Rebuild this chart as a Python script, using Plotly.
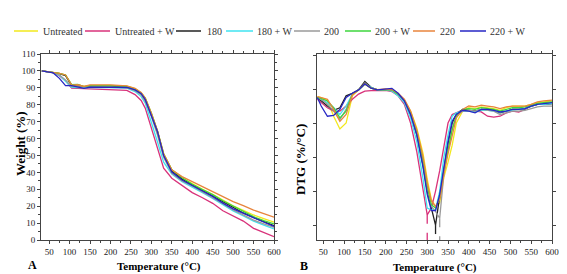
import plotly.graph_objects as go

# ---------------- data ----------------
series_names = ["Untreated", "Untreated + W", "180", "180 + W", "200", "200 + W", "220", "220 + W"]
series_colors = ["#f2e81c", "#d8327a", "#222222", "#3fe3f0", "#9a9a9a", "#3ed63e", "#e8843c", "#2626c4"]

# TGA (panel A)
temp_a = [32, 60, 75, 90, 105, 120, 135, 150, 200, 240, 260, 275, 285, 300, 315, 330, 350,
          375, 400, 425, 450, 475, 500, 525, 550, 575, 600]
tga_untreated = [100, 99.2, 98.5, 97.5, 91.8, 91.8, 90.8, 91.4, 91.5, 91.0, 89.5, 87.0, 84.0, 75.0, 64.0, 51.0, 41.5,
                 36.8, 33.3, 30.0, 27.0, 23.5, 20.2, 17.5, 14.8, 12.6, 10.5]
tga_untreated_w = [100, 99.0, 97.2, 94.2, 89.8, 89.7, 89.5, 89.4, 89.0, 88.5, 86.0, 82.5, 78.0, 66.0, 54.0, 42.5, 36.5,
                   32.0, 28.0, 25.0, 21.7, 17.3, 14.0, 11.2, 6.9, 4.3, 2.0]
tga_180 = [100, 99.2, 98.4, 97.2, 91.3, 91.0, 90.5, 90.8, 90.8, 90.3, 88.8, 86.5, 83.0, 74.0, 64.0, 50.0, 40.8,
           36.0, 32.7, 29.3, 26.0, 22.3, 19.0, 16.0, 13.3, 10.9, 8.5]
tga_180_w = [100, 99.0, 97.4, 93.6, 90.3, 90.2, 90.0, 90.2, 90.2, 89.8, 87.8, 84.8, 81.0, 70.0, 58.0, 46.0, 39.0,
             34.5, 31.5, 28.0, 24.6, 20.8, 17.2, 14.2, 11.2, 8.8, 6.5]
tga_200 = [100, 99.0, 97.6, 94.6, 90.7, 90.5, 90.3, 90.5, 90.5, 90.0, 88.3, 85.8, 82.0, 73.0, 62.0, 49.0, 39.5,
           35.0, 32.0, 28.5, 25.4, 21.4, 17.8, 14.8, 11.8, 9.6, 7.5]
tga_200_w = [100, 99.3, 98.6, 97.6, 91.8, 92.0, 90.7, 91.3, 91.3, 90.8, 89.3, 87.0, 84.0, 75.0, 64.5, 51.0, 41.5,
             36.8, 33.0, 29.8, 26.8, 23.2, 19.9, 17.0, 13.8, 11.5, 9.5]
tga_220 = [100, 99.3, 98.6, 97.6, 91.6, 91.8, 90.8, 91.7, 91.7, 91.2, 89.7, 87.3, 84.0, 75.0, 64.5, 51.0, 41.5,
           37.5, 34.5, 31.5, 28.6, 25.6, 22.7, 20.3, 17.7, 15.6, 13.5]
tga_220_w = [100, 98.8, 95.6, 91.3, 91.3, 90.7, 89.7, 90.4, 90.4, 90.2, 88.8, 86.5, 83.0, 74.0, 64.0, 50.0, 40.2,
             35.5, 32.5, 29.0, 25.8, 21.8, 18.4, 15.8, 12.8, 10.4, 8.0]

# DTG (panel B)
temp_b = [36, 45, 60, 75, 90, 105, 120, 135, 150, 165, 180, 200, 215, 230, 245, 260, 275, 290, 300, 310,
          320, 330, 340, 350, 360, 370, 385, 400, 415, 430, 445, 460, 475, 490, 505, 520, 535, 550, 565, 580, 600]
dtg_untreated = [-0.045, -0.05, -0.065, -0.16, -0.235, -0.2, -0.04, -0.005, 0.03, 0.005, -0.005, -0.002, -0.005,
                 -0.03, -0.065, -0.13, -0.23, -0.38, -0.53, -0.65, -0.69, -0.67, -0.52, -0.43, -0.33, -0.2,
                 -0.13, -0.11, -0.115, -0.105, -0.11, -0.115, -0.125, -0.11, -0.1, -0.1, -0.1, -0.09, -0.08,
                 -0.075, -0.07]
dtg_untreated_w = [-0.06, -0.08, -0.11, -0.13, -0.13, -0.1, -0.06, -0.03, -0.012, -0.01, -0.01, -0.008, -0.015,
                   -0.04, -0.09, -0.2, -0.37, -0.6, -0.74, -0.7, -0.6, -0.48, -0.35, -0.2, -0.15, -0.14,
                   -0.125, -0.13, -0.13, -0.135, -0.16, -0.165, -0.16, -0.14, -0.13, -0.135, -0.12, -0.1, -0.09,
                   -0.09, -0.085]
dtg_180 = [-0.05, -0.07, -0.1, -0.125, -0.11, -0.04, -0.025, -0.005, 0.045, 0.01, -0.005, -0.003, -0.008,
           -0.03, -0.07, -0.15, -0.27, -0.45, -0.6, -0.7, -0.8, -0.63, -0.46, -0.32, -0.2, -0.15,
           -0.12, -0.125, -0.13, -0.12, -0.12, -0.125, -0.14, -0.13, -0.12, -0.12, -0.115, -0.1, -0.09,
           -0.09, -0.085]
dtg_180_w = [-0.05, -0.06, -0.08, -0.11, -0.15, -0.1, -0.03, -0.005, 0.03, 0.01, -0.005, -0.005, -0.012,
             -0.04, -0.08, -0.17, -0.31, -0.53, -0.7, -0.71, -0.71, -0.6, -0.4, -0.27, -0.16, -0.14,
             -0.13, -0.13, -0.135, -0.125, -0.125, -0.13, -0.135, -0.13, -0.125, -0.12, -0.115, -0.1, -0.09,
             -0.09, -0.085]
dtg_200 = [-0.05, -0.06, -0.09, -0.13, -0.18, -0.12, -0.03, -0.005, 0.035, 0.005, -0.003, -0.003, -0.006,
           -0.03, -0.07, -0.15, -0.26, -0.43, -0.58, -0.69, -0.72, -0.76, -0.5, -0.36, -0.23, -0.16,
           -0.13, -0.125, -0.13, -0.12, -0.125, -0.13, -0.15, -0.14, -0.13, -0.13, -0.125, -0.115, -0.105,
           -0.1, -0.1]
dtg_200_w = [-0.05, -0.055, -0.07, -0.11, -0.17, -0.13, -0.03, -0.005, 0.03, 0.005, -0.003, -0.002, -0.005,
             -0.03, -0.065, -0.14, -0.25, -0.42, -0.57, -0.68, -0.7, -0.64, -0.48, -0.36, -0.24, -0.16,
             -0.12, -0.115, -0.12, -0.11, -0.115, -0.12, -0.13, -0.12, -0.11, -0.11, -0.105, -0.095, -0.085,
             -0.08, -0.075]
dtg_220 = [-0.045, -0.05, -0.06, -0.12, -0.19, -0.15, -0.035, -0.005, 0.03, 0.005, -0.003, 0.0, -0.003,
           -0.025, -0.06, -0.13, -0.24, -0.4, -0.55, -0.66, -0.69, -0.65, -0.5, -0.38, -0.27, -0.17,
           -0.12, -0.1, -0.105, -0.095, -0.1, -0.105, -0.115, -0.105, -0.1, -0.1, -0.1, -0.09, -0.075,
           -0.07, -0.065]
dtg_220_w = [-0.05, -0.1, -0.16, -0.155, -0.12, -0.05, -0.025, -0.005, 0.03, 0.005, -0.005, -0.002, 0.004,
             -0.025, -0.07, -0.15, -0.27, -0.46, -0.62, -0.715, -0.715, -0.62, -0.45, -0.31, -0.19, -0.15,
             -0.125, -0.13, -0.14, -0.12, -0.12, -0.125, -0.135, -0.13, -0.12, -0.12, -0.115, -0.1, -0.09,
             -0.085, -0.08]

# DTG peak markers (dashed drop lines)
peak_series = ["Untreated + W", "180", "200"]
peak_temp = [300, 320, 330]

tga_values = [tga_untreated, tga_untreated_w, tga_180, tga_180_w, tga_200, tga_200_w, tga_220, tga_220_w]
dtg_values = [dtg_untreated, dtg_untreated_w, dtg_180, dtg_180_w, dtg_200, dtg_200_w, dtg_220, dtg_220_w]

x_ticks = [50, 100, 150, 200, 250, 300, 350, 400, 450, 500, 550, 600]
y_ticks_a = [0, 10, 20, 30, 40, 50, 60, 70, 80, 90, 100, 110]

# ---------------- layout constants ----------------
W, H = 567, 274
L, R, T, B = 33, 23, 46, 42
PW, PH = W - L - R, H - T - B
FONT = "Liberation Serif"
DTG_RANGE = [-0.888, 0.206]


def px_x(px):
    return (px - L) / PW


def px_y(py):
    return (H - B - py) / PH


fig = go.Figure()

for name, color, ys in zip(series_names, series_colors, tga_values):
    fig.add_trace(go.Scatter(x=temp_a, y=ys, mode="lines", name=name, showlegend=False,
                             line=dict(color=color, width=1.3), xaxis="x", yaxis="y"))
for name, color, ys in zip(series_names, series_colors, dtg_values):
    fig.add_trace(go.Scatter(x=temp_b, y=ys, mode="lines", name=name, showlegend=False,
                             line=dict(color=color, width=1.3), xaxis="x2", yaxis="y2"))

for sname, t in zip(peak_series, peak_temp):
    i = series_names.index(sname)
    ymin = dtg_values[i][temp_b.index(t)]
    fig.add_trace(go.Scatter(x=[t, t], y=[ymin, DTG_RANGE[0]], mode="lines", showlegend=False,
                             line=dict(color=series_colors[i], width=1.3, dash="dash"),
                             xaxis="x2", yaxis="y2"))

axis_common = dict(showline=True, linecolor="#444", linewidth=1, mirror="ticks", ticks="outside",
                   ticklen=3, tickwidth=1, tickcolor="#444", showgrid=False, zeroline=False,
                   tickfont=dict(family=FONT, size=9, color="#222"))

fig.update_layout(
    width=W, height=H, margin=dict(l=L, r=R, t=T, b=B),
    paper_bgcolor="white", plot_bgcolor="white", showlegend=False,
    xaxis=dict(domain=[0, px_x(266)], range=[30, 600], tickvals=x_ticks,
               minor=dict(ticks="outside", ticklen=2, dtick=25, tick0=0, tickcolor="#444"),
               **axis_common),
    yaxis=dict(domain=[0, 1], range=[0, 110], tickvals=y_ticks_a,
               minor=dict(ticks="outside", ticklen=2, dtick=5, tick0=0, tickcolor="#444"),
               **axis_common),
    xaxis2=dict(domain=[px_x(309), 1], range=[35, 600], tickvals=x_ticks, anchor="y2",
                minor=dict(ticks="outside", ticklen=2, dtick=25, tick0=0, tickcolor="#444"),
                **axis_common),
    yaxis2=dict(domain=[0, 1], range=DTG_RANGE, tick0=0, dtick=0.2, showticklabels=False,
                anchor="x2", **axis_common),
)

title_font = dict(family=FONT, size=11, color="black")
annotations = [
    dict(text="<b>Temperature (°C)</b>", x=px_x(151), y=px_y(258), font=title_font),
    dict(text="<b>Temperature (°C)</b>", x=px_x(427), y=px_y(259), font=title_font),
    dict(text="<b>Weight (%)</b>", x=px_x(12), y=px_y(136), textangle=-90,
         font=dict(family=FONT, size=13, color="black")),
    dict(text="<b>DTG (%/°C)</b>", x=px_x(292), y=px_y(152), textangle=-90,
         font=dict(family=FONT, size=13, color="black")),
    dict(text="<b>A</b>", x=px_x(24), y=px_y(257), font=dict(family=FONT, size=12, color="black")),
    dict(text="<b>B</b>", x=px_x(296), y=px_y(258), font=dict(family=FONT, size=12, color="black")),
]
for a in annotations:
    a.update(xref="paper", yref="paper", showarrow=False, xanchor="center", yanchor="middle")

# manual legend row (line sample + label)
legend_line_px = [(6, 30), (77, 102), (168, 193), (218, 245), (286, 312), (337, 363), (405, 427), (452, 478)]
legend_text_px = [33, 105, 197, 247, 314, 365, 430, 480]
legend_y = px_y(23)
shapes = []
for (x0, x1), tx, name, color in zip(legend_line_px, legend_text_px, series_names, series_colors):
    shapes.append(dict(type="line", xref="paper", yref="paper", x0=px_x(x0), x1=px_x(x1),
                       y0=legend_y, y1=legend_y, line=dict(color=color, width=1.5)))
    annotations.append(dict(text=name, xref="paper", yref="paper", x=px_x(tx), y=legend_y,
                            xanchor="left", yanchor="middle", showarrow=False,
                            font=dict(family=FONT, size=10, color="#333")))

fig.update_layout(annotations=annotations, shapes=shapes)
fig.write_html("out.html")
